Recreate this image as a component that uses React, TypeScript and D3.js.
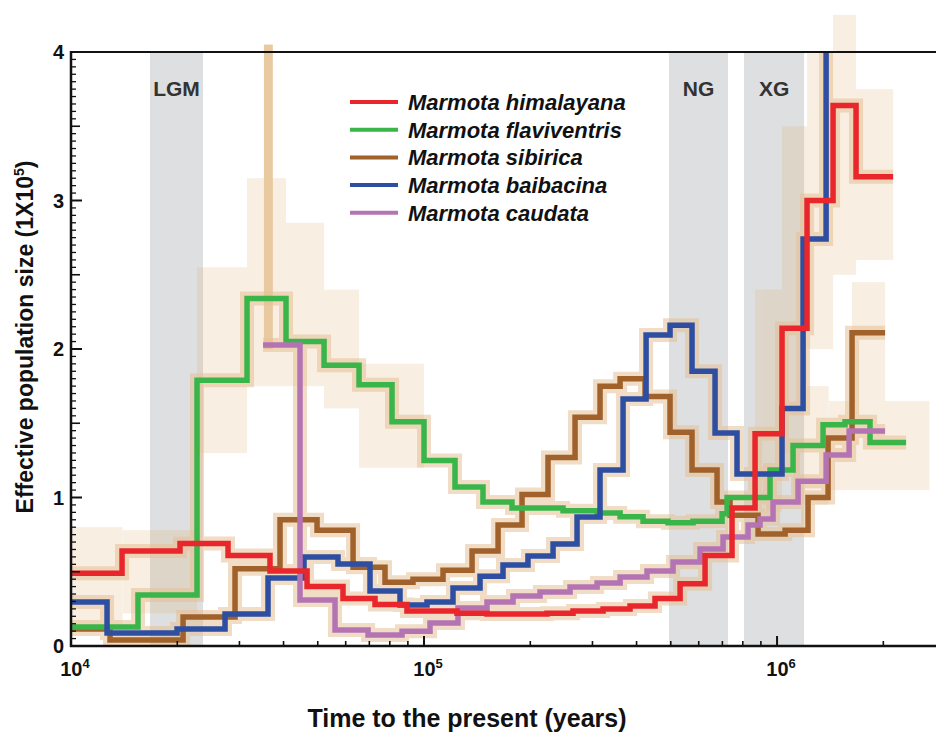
import React from "react";
import * as d3 from "d3";

const W = 936;
const H = 736;

const speciesNames = [
  "Marmota himalayana",
  "Marmota flaviventris",
  "Marmota sibirica",
  "Marmota baibacina",
  "Marmota caudata",
];
const speciesColors = ["#e8262b", "#3ab54a", "#a0612a", "#2d4ea1", "#b474b3"];

// [time (years), Ne (x1e5)] step-after points; final point marks the end
const himalayana: [number, number][] = [
  [10000, 0.49], [13950, 0.64], [20360, 0.69], [27850, 0.61], [36620, 0.505],
  [46630, 0.4], [58950, 0.32], [72640, 0.28], [89470, 0.235], [124000, 0.22],
  [150800, 0.215], [223000, 0.22], [264300, 0.235], [321500, 0.25], [383300, 0.27],
  [451200, 0.32], [531300, 0.42], [625300, 0.61], [745600, 0.93], [866400, 1.43],
  [1033000, 2.14], [1216000, 3.0], [1441000, 3.64], [1674000, 3.16], [2132000, 3.16],
];
const flaviventris: [number, number][] = [
  [10000, 0.128], [15480, 0.343], [22750, 1.79], [31520, 2.34], [40650, 2.05],
  [52100, 1.89], [65450, 1.76], [81160, 1.51], [100000, 1.25], [122400, 1.07],
  [146900, 0.97], [177500, 0.93], [247600, 0.91], [309200, 0.895], [359300, 0.87],
  [417300, 0.84], [491100, 0.83], [578100, 0.84], [698600, 0.89], [721800, 1.0],
  [955400, 1.185], [1110000, 1.35], [1350000, 1.49], [1558000, 1.51], [1834000, 1.37],
  [2320000, 1.37],
];
const sibirica: [number, number][] = [
  [10000, 0.115], [12900, 0.04], [20770, 0.195], [29150, 0.52], [39090, 0.85],
  [49770, 0.78], [62950, 0.53], [77530, 0.43], [93060, 0.45], [113200, 0.51],
  [136800, 0.64], [162100, 0.815], [189500, 1.02], [224500, 1.27], [267800, 1.54],
  [315200, 1.75], [359300, 1.8], [422700, 1.68], [497600, 1.44], [574300, 1.185],
  [676100, 0.97], [736000, 0.88], [883600, 0.754], [1054000, 0.78], [1224000, 1.0],
  [1395000, 1.4], [1631000, 2.11], [2023000, 2.11],
];
const baibacina: [number, number][] = [
  [10000, 0.296], [12650, 0.0875], [19970, 0.115], [27310, 0.215], [36150, 0.458],
  [45710, 0.6], [57060, 0.552], [70310, 0.37], [85500, 0.276], [101960, 0.296],
  [120800, 0.39], [144100, 0.47], [167400, 0.545], [197000, 0.606], [232000, 0.687],
  [271300, 0.869], [315200, 1.185], [366300, 1.663], [425600, 2.094], [497600, 2.16],
  [574300, 1.85], [667400, 1.434], [770200, 1.158], [1033000, 1.6], [1185000, 2.74],
  [1377000, 4.0],
];
const caudata: [number, number][] = [
  [34990, 2.027], [44540, 0.31], [55960, 0.108], [69410, 0.074], [86630, 0.1],
  [104000, 0.155], [124800, 0.256], [150800, 0.296], [178700, 0.337], [213100, 0.364],
  [259200, 0.397], [309200, 0.424], [359300, 0.465], [428200, 0.505], [507500, 0.566],
  [605300, 0.653], [703100, 0.734], [827700, 0.815], [895000, 0.855], [974200, 0.97],
  [1147000, 1.11], [1377000, 1.286], [1600000, 1.448], [2023000, 1.448],
];
const seriesList = [himalayana, flaviventris, sibirica, baibacina, caudata];
const drawOrder = [2, 1, 3, 4, 0];

// bootstrap spread: [t0, t1, low, high]
const bootstrapSpread: [number, number, number, number][] = [
  [10000, 14000, 0.12, 0.8],
  [14000, 22750, 0.22, 0.78],
  [22750, 31520, 1.3, 2.55],
  [31520, 40650, 1.75, 3.15],
  [40650, 52100, 1.75, 2.85],
  [52100, 65450, 1.6, 2.4],
  [65450, 100000, 1.2, 1.9],
  [866400, 1033000, 0.9, 2.4],
  [1033000, 1216000, 1.3, 3.5],
  [1216000, 1441000, 2.0, 4.0],
  [1441000, 1674000, 2.5, 4.25],
  [1674000, 2132000, 2.6, 3.75],
  [1631000, 2023000, 1.25, 2.45],
  [1110000, 1400000, 0.95, 1.75],
  [1400000, 2700000, 1.05, 1.65],
];
// the narrow bootstrap spike near 3.6x10^4 years
const bootstrapSpike: [number, number, number, number] = [35200, 37300, 2.0, 4.05];

const glacialBands = [
  { label: "LGM", from: 16740, to: 23650 },
  { label: "NG", from: 494400, to: 726300 },
  { label: "XG", from: 806400, to: 1193000 },
];

const xMajor = [1e4, 1e5, 1e6];
const xMajorExp = ["4", "5", "6"];
const yMajor = [0, 1, 2, 3, 4];

const FONT = "'Liberation Sans', Arial, Helvetica, sans-serif";

export default function App() {
  const left = 71, right = 936, top = 52, bottom = 646;
  const x = d3.scaleLog().domain([1e4, 2.82e6]).range([left, right]);
  const y = d3.scaleLinear().domain([0, 4]).range([bottom, top]);
  const line = d3
    .line<[number, number]>()
    .x((d) => x(d[0]))
    .y((d) => y(d[1]))
    .curve(d3.curveStepAfter);

  const xMinor: number[] = [];
  xMajor.forEach((d) => {
    for (let k = 2; k <= 9; k++) if (k * d <= 2.82e6) xMinor.push(k * d);
  });
  const yTicks: { v: number; len: number; w: number }[] = [];
  for (let i = 0; i <= 80; i++) {
    const v = i * 0.05;
    if (i % 20 === 0) yTicks.push({ v, len: 11, w: 2 });
    else if (i % 10 === 0) yTicks.push({ v, len: 9, w: 1.6 });
    else yTicks.push({ v, len: 5, w: 1.3 });
  }

  return (
    <svg
      width={W}
      height={H}
      style={{ position: "absolute", left: 0, top: 0, background: "#fff" }}
      fontFamily={FONT}
    >
      <defs>
        <clipPath id="plotClip">
          <rect x={left} y={top - 1} width={right - left} height={bottom - top + 2} />
        </clipPath>
      </defs>
      {glacialBands.map((b) => (
        <rect
          key={b.label}
          x={x(b.from)}
          y={top}
          width={x(b.to) - x(b.from)}
          height={bottom - top}
          fill="#dedfe0"
        />
      ))}
      <g opacity={0.22}>
        {bootstrapSpread.map((b, i) => (
          <rect
            key={i}
            x={x(b[0])}
            y={y(b[3])}
            width={x(b[1]) - x(b[0])}
            height={y(b[2]) - y(b[3])}
            fill="#e0b47c"
          />
        ))}
      </g>
      <rect
        x={x(bootstrapSpike[0])}
        y={y(bootstrapSpike[3])}
        width={x(bootstrapSpike[1]) - x(bootstrapSpike[0])}
        height={y(bootstrapSpike[2]) - y(bootstrapSpike[3])}
        fill="#e9c9a0"
      />
      <g opacity={0.55}>
        {seriesList.map((s, i) => (
          <path
            key={i}
            d={line(s) || ""}
            fill="none"
            stroke="#e6c196"
            strokeWidth={14}
            strokeLinejoin="miter"
          />
        ))}
      </g>
      <g clipPath="url(#plotClip)">
        {drawOrder.map((i) => (
          <path
            key={i}
            d={line(seriesList[i]) || ""}
            fill="none"
            stroke={speciesColors[i]}
            strokeWidth={5.5}
            strokeLinejoin="miter"
            strokeLinecap="butt"
          />
        ))}
      </g>
      {/* frame and axes */}
      <line x1={left} x2={right} y1={top} y2={top} stroke="#111" strokeWidth={2} />
      <line x1={left} x2={left} y1={top - 1} y2={bottom + 1} stroke="#111" strokeWidth={2.5} />
      <line x1={left - 1} x2={right} y1={bottom} y2={bottom} stroke="#111" strokeWidth={2.5} />
      {yTicks.map((t, i) => (
        <line
          key={i}
          x1={left}
          x2={left + t.len}
          y1={y(t.v)}
          y2={y(t.v)}
          stroke="#111"
          strokeWidth={t.w}
        />
      ))}
      {xMinor.map((t, i) => (
        <line key={i} x1={x(t)} x2={x(t)} y1={bottom} y2={bottom - 5} stroke="#111" strokeWidth={1.6} />
      ))}
      {xMajor.map((t, i) => (
        <line key={i} x1={x(t)} x2={x(t)} y1={bottom} y2={bottom - 10} stroke="#111" strokeWidth={2} />
      ))}
      {yMajor.map((v) => (
        <text
          key={v}
          x={64}
          y={y(v) + 7}
          textAnchor="end"
          fontSize={20}
          fontWeight="bold"
          fill="#111"
        >
          {v}
        </text>
      ))}
      {xMajor.map((t, i) => (
        <text
          key={t}
          x={x(t) + 4}
          y={676}
          textAnchor="middle"
          fontSize={20}
          fontWeight="bold"
          fill="#111"
        >
          10
          <tspan dy={-8} fontSize={13}>
            {xMajorExp[i]}
          </tspan>
        </text>
      ))}
      <text
        x={467}
        y={727}
        textAnchor="middle"
        fontSize={25}
        fontWeight="bold"
        fill="#111"
      >
        Time to the present (years)
      </text>
      <text
        transform="translate(33,337) rotate(-90)"
        textAnchor="middle"
        fontSize={23}
        fontWeight="bold"
        fill="#111"
      >
        Effective population size (1X10
        <tspan dy={-9} fontSize={14}>
          5
        </tspan>
        <tspan dy={9}>)</tspan>
      </text>
      {glacialBands.map((b) => (
        <text
          key={b.label}
          x={(x(b.from) + x(b.to)) / 2}
          y={96}
          textAnchor="middle"
          fontSize={21}
          fontWeight="bold"
          fill="#333"
        >
          {b.label}
        </text>
      ))}
      {/* legend */}
      {speciesNames.map((n, i) => {
        const ly = 102 + i * 27.7;
        return (
          <g key={n}>
            <line x1={350} x2={398} y1={ly} y2={ly} stroke={speciesColors[i]} strokeWidth={4} />
            <text
              x={408}
              y={ly + 8}
              fontSize={22}
              fontWeight="bold"
              fontStyle="italic"
              fill="#111"
            >
              {n}
            </text>
          </g>
        );
      })}
    </svg>
  );
}
